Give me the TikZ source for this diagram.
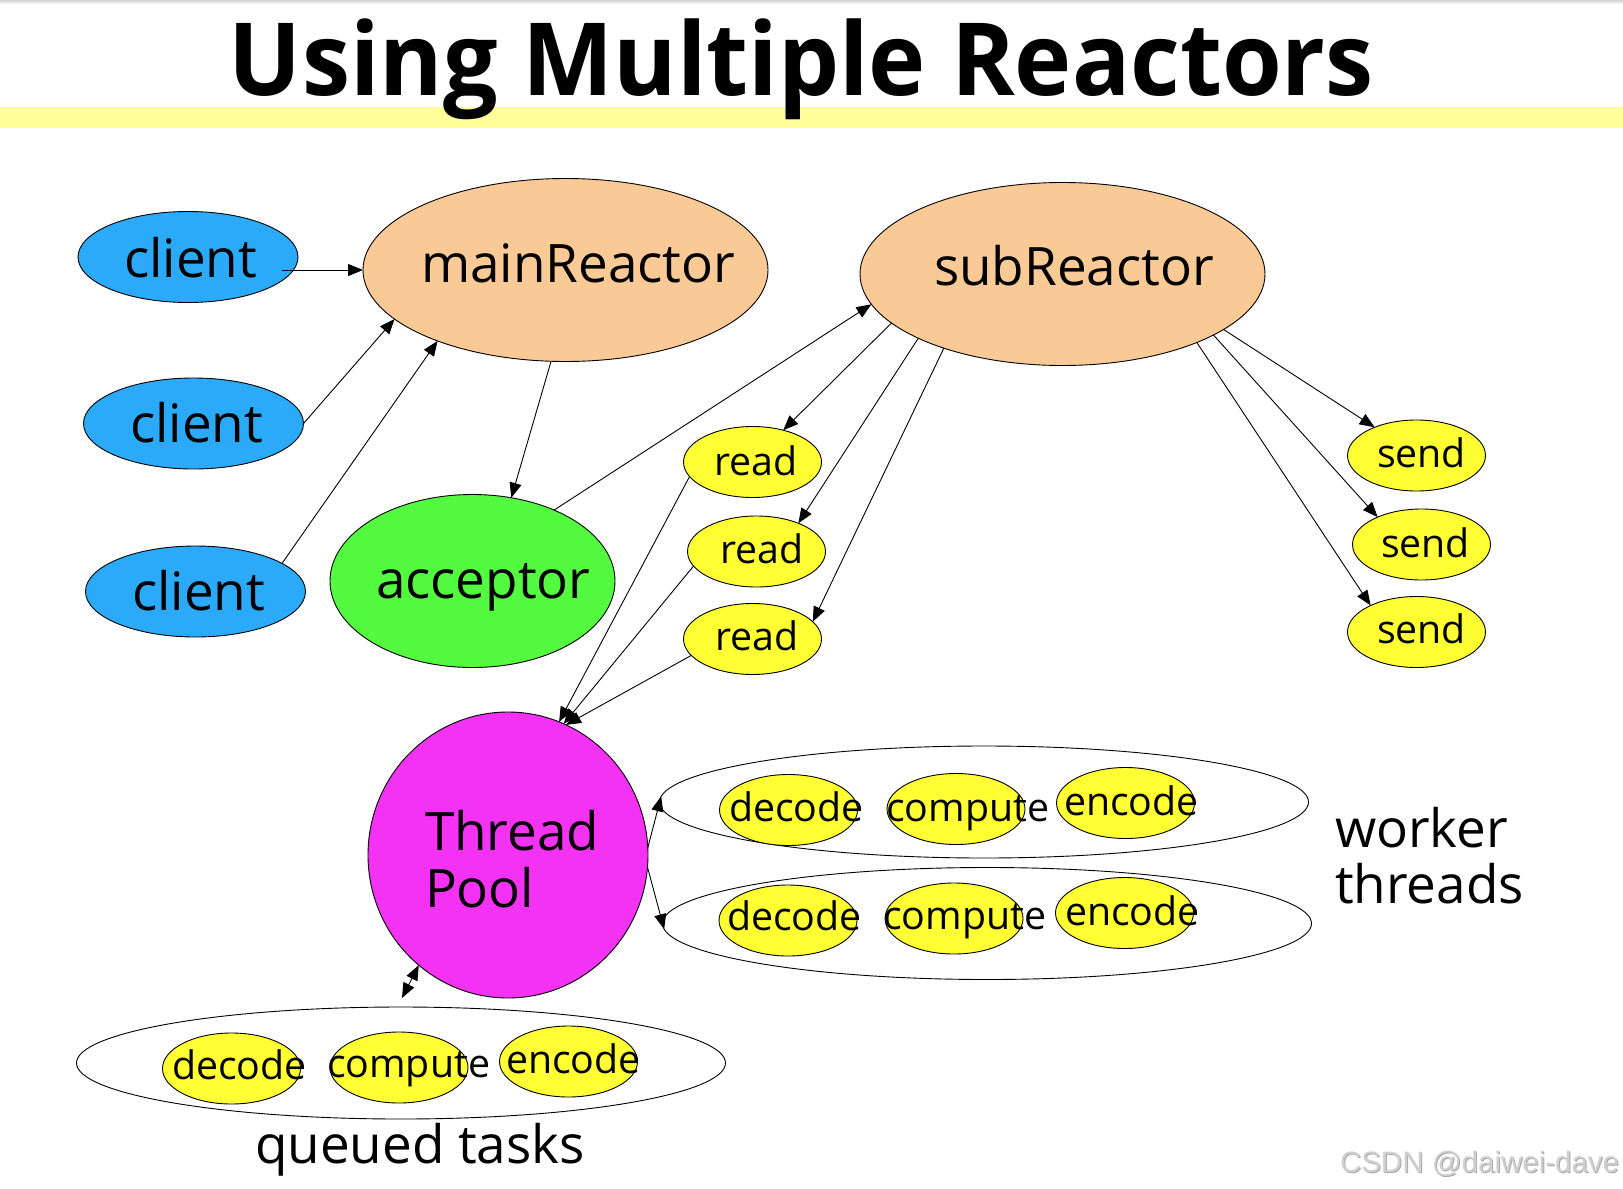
\documentclass[tikz,border=0pt]{standalone}
\usepackage{fontspec}
\setmainfont{Open Sans}
\newfontfamily\markfont{Liberation Sans}
\usetikzlibrary{arrows.meta,shapes.geometric,calc}

\definecolor{clientblue}{RGB}{44,170,250}
\definecolor{reactororange}{RGB}{249,201,150}
\definecolor{acceptgreen}{RGB}{84,250,64}
\definecolor{poolmagenta}{RGB}{243,50,243}
\definecolor{taskyellow}{RGB}{255,255,51}
\definecolor{bandyellow}{RGB}{255,255,153}
\definecolor{markgray}{RGB}{208,208,208}
\definecolor{markshade}{RGB}{170,170,170}

\begin{document}
\begin{tikzpicture}[x=1pt,y=-1pt,
  every node/.style={inner sep=0pt, outer sep=0pt},
  oval/.style={ellipse, draw=black, line width=0.9pt},
  clientnode/.style={oval, fill=clientblue, minimum width=220pt, minimum height=91pt},
  reactor/.style={oval, fill=reactororange, minimum width=405pt, minimum height=183pt},
  smalltask/.style={oval, fill=taskyellow, minimum width=138pt, minimum height=71pt},
  group/.style={oval, fill=white, minimum width=649pt, minimum height=112pt},
  biglabel/.style={anchor=base west, font=\fontsize{53}{58}\selectfont},
  smalllabel/.style={anchor=base west, font=\fontsize{39.3}{43}\selectfont},
  link/.style={line width=0.9pt, -{Triangle[length=15pt,width=12pt]}},
  biglink/.style={line width=0.9pt, {Triangle[length=15pt,width=12pt]}-{Triangle[length=15pt,width=12pt]}},
]
\useasboundingbox (0,0) rectangle (1623,1189);

% header
\shade[top color=black!18, bottom color=white] (0,0) rectangle (1623,4);
\fill[bandyellow] (0,107) rectangle (1623,128);
\node[anchor=base, xscale=0.957, font=\fontsize{101}{110}\selectfont\bfseries] (title) at (801.5,95) {Using Multiple Reactors};

% clients
\node[clientnode] (c1) at (188,257) {};
\node[clientnode] (c2) at (193.5,423.5) {};
\node[clientnode] (c3) at (195.5,591.5) {};
\node[biglabel] (c1t) at (124,277) {client};
\node[biglabel] (c2t) at (130,442) {client};
\node[biglabel] (c3t) at (132,610) {client};

% reactors and acceptor
\node[reactor] (main) at (565.5,270) {};
\node[reactor] (sub) at (1062.5,274) {};
\node[biglabel] (maint) at (421,282) {mainReactor};
\node[biglabel] (subt) at (934,285) {subReactor};
\node[oval, fill=acceptgreen, minimum width=285pt, minimum height=173pt] (acc) at (472.5,581) {};
\node[biglabel] (acct) at (376,598) {acceptor};

% read handlers
\node[smalltask] (r1) at (752.5,462) {};
\node[smalltask] (r2) at (756.5,551.5) {};
\node[smalltask] (r3) at (752.5,639) {};
\node[smalllabel] at (714,475) {read};
\node[smalllabel] at (720,563) {read};
\node[smalllabel] at (715,650) {read};

% send handlers
\node[smalltask] (s1) at (1416.5,455.5) {};
\node[smalltask] (s2) at (1421.5,544.5) {};
\node[smalltask] (s3) at (1416.5,632) {};
\node[smalllabel] at (1377,467) {send};
\node[smalllabel] at (1381,557) {send};
\node[smalllabel] at (1377,643) {send};

% thread pool
\node[oval, fill=poolmagenta, minimum width=280pt, minimum height=286pt] (tp) at (508,855) {};
\node[biglabel] at (425,850) {Thread};
\node[biglabel] at (425,907) {Pool};

% worker threads
\node[group] (w1) at (984,802) {};
\node[group] (w2) at (987,923.5) {};
\node[smalltask] (w1d) at (788.5,810) {};
\node[smalltask] (w1c) at (956,809) {};
\node[smalltask] (w1e) at (1125.5,803) {};
\node[smalltask] (w2d) at (788,920.5) {};
\node[smalltask] (w2c) at (954,918.5) {};
\node[smalltask] (w2e) at (1124.5,913) {};
\node[smalllabel] at (729,821) {decode};
\node[smalllabel] at (886,821) {compute};
\node[smalllabel] at (1064,815) {encode};
\node[smalllabel] at (727,930) {decode};
\node[smalllabel] at (883,929) {compute};
\node[smalllabel] at (1065,925) {encode};
\node[biglabel] at (1335,847) {worker};
\node[biglabel] at (1335,903) {threads};

% queued tasks
\node[group] (q) at (401,1063) {};
\node[smalltask] (qd) at (231.5,1068.5) {};
\node[smalltask] (qc) at (399,1067.5) {};
\node[smalltask] (qe) at (568.5,1061.5) {};
\node[smalllabel] at (172,1079) {decode};
\node[smalllabel] at (327,1077) {compute};
\node[smalllabel] at (506,1073) {encode};
\node[biglabel] at (255,1163) {queued tasks};

% connectors
\draw[link] ($(c1.center)+(94,13)$) -- (main.west);
\draw[link] (c2.east) -- (main.196);
\draw[link] (c3.18) -- (main.209);
\draw[link] (main.261) -- (acc.65);
\draw[link] (acc.41) -- (sub.189);
\draw[link] (sub.196) -- (r1.46);
\draw[link] (sub.204) -- (r2.34);
\draw[link] (sub.212) -- (r3.16);
\draw[link] (r1.193) -- (tp.69);
\draw[link] (r2.193) -- (tp.67);
\draw[link] (r3.195) -- (tp.66);
\draw[link] (sub.-19) -- (s1.146);
\draw[link] (sub.-22) -- (s2.148);
\draw[link] (sub.-27) -- (s3.150);
\draw[link] (tp.3) -- (w1.179);
\draw[link] (tp.-5) -- (w2.181);
\draw[biglink] ($(q.north)+(1,-9)$) -- (tp.231);

% watermark
\node[anchor=base west, font=\markfont\fontsize{29.5}{32}\selectfont, text=markshade] at (1341,1173) {CSDN @daiwei-dave};
\node[anchor=base west, font=\markfont\fontsize{29.5}{32}\selectfont, text=markgray] (mark) at (1340,1172) {CSDN @daiwei-dave};
\end{tikzpicture}
\end{document}
